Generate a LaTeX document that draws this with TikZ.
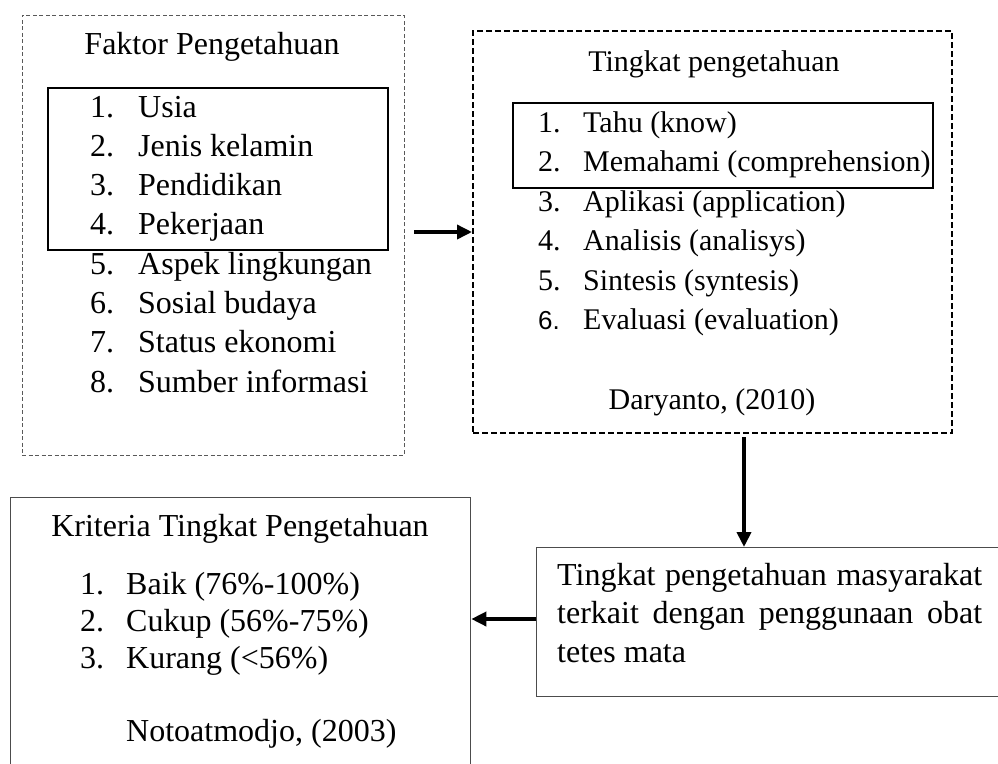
\documentclass[tikz,border=0pt]{standalone}
\usepackage{fontspec}
\setmainfont{Liberation Serif}
\newfontfamily\arialfont{Liberation Sans}
\usetikzlibrary{arrows.meta}
\begin{document}
\begin{tikzpicture}[x=1pt,y=-1pt,
  txt/.style={inner sep=0pt, anchor=base west, font=\fontsize{32}{39}\selectfont},
  ctxt/.style={inner sep=0pt, anchor=base, font=\fontsize{32}{39}\selectfont},
  txtb/.style={inner sep=0pt, anchor=base west, font=\fontsize{30}{39}\selectfont},
  ctxtb/.style={inner sep=0pt, anchor=base, font=\fontsize{30}{39}\selectfont},
  thindash/.style={draw=black!65, line width=1pt, dash pattern=on 4pt off 2.5pt},
  thickdash/.style={draw=black, line width=2pt, dash pattern=on 6pt off 3pt},
  innerbox/.style={draw=black, line width=2pt},
  plainbox/.style={draw=black!70, line width=1.3pt},
  arr/.style={line width=3.5pt, -{Triangle[length=15pt,width=14pt]}}
]
\useasboundingbox (0,0) rectangle (998,763);

% Box 1: Faktor Pengetahuan
\node[thindash, inner sep=0pt, minimum width=382pt, minimum height=440pt] (box1) at (213,235) {};
\node[innerbox, inner sep=0pt, minimum width=340pt, minimum height=162pt] (in1) at (218,169) {};
\node[ctxt] (t1) at (212,54) {Faktor Pengetahuan};
\foreach \n/\t [count=\i from 0] in {1/Usia,2/Jenis kelamin,3/Pendidikan,4/Pekerjaan,5/Aspek lingkungan,6/Sosial budaya,7/Status ekonomi,8/Sumber informasi}{
  \node[txt] (n1\n) at (90,{117+39.3*\i}) {\n.};
  \node[txt] (i1\n) at (138,{117+39.3*\i}) {\t};
}

% Box 2: Tingkat pengetahuan
\node[thickdash, inner sep=0pt, minimum width=479pt, minimum height=402pt] (box2) at (712.5,232) {};
\node[innerbox, inner sep=0pt, minimum width=420pt, minimum height=85pt] (in2) at (723,145.5) {};
\node[ctxtb] (t2) at (714,71) {Tingkat pengetahuan};
\foreach \n/\t [count=\i from 0] in {1/Tahu (know),2/Memahami (comprehension),3/Aplikasi (application),4/Analisis (analisys),5/Sintesis (syntesis)}{
  \node[txtb] (n2\n) at (538,{132+39.5*\i}) {\n.};
  \node[txtb] (i2\n) at (583,{132+39.5*\i}) {\t};
}
\node[txtb, font=\arialfont\fontsize{26}{39}\selectfont] (n26) at (538,{132+39.5*5}) {6.};
\node[txtb] (i26) at (583,{132+39.5*5}) {Evaluasi (evaluation)};
\node[ctxtb] (d2) at (712,409) {Daryanto, (2010)};

% Box 3
\node[plainbox, inner sep=0pt, minimum width=470pt, minimum height=149pt, anchor=north west] (box3) at (536,547) {};
\node[inner sep=0pt, anchor=north west, text width=425pt, align=justify,
      font=\fontsize{32}{38.5}\selectfont] (t3) at (557,563)
  {Tingkat pengetahuan masyarakat terkait dengan penggunaan obat tetes mata};

% Box 4: Kriteria
\node[plainbox, inner sep=0pt, minimum width=460pt, minimum height=300pt, anchor=north west] (box4) at (10,497) {};
\node[ctxt] (t4) at (240,536) {Kriteria Tingkat Pengetahuan};
\foreach \n/\t [count=\i from 0] in {1/Baik (76\%-100\%),2/Cukup (56\%-75\%),3/Kurang (<56\%)}{
  \node[txt] (n4\n) at (80,{594+37*\i}) {\n.};
  \node[txt] (i4\n) at (126,{594+37*\i}) {\t};
}
\node[txt] (d4) at (126,741) {Notoatmodjo, (2003)};

% Arrows
\coordinate (a1) at (414,232);
\draw[arr] (a1) -- (a1 -| box2.west);
\coordinate (a2) at (744,437);
\draw[arr, line width=4pt] (a2) -- (a2 |- box3.north);
\coordinate (a3) at (0,619);
\draw[arr] (a3 -| box3.west) -- (a3 -| box4.east);
\end{tikzpicture}
\end{document}
